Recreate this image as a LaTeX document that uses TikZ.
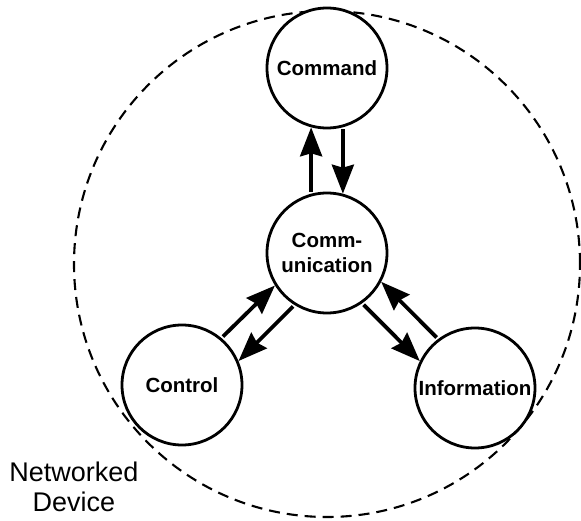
\documentclass[tikz,border=0pt]{standalone}
\usepackage{fontspec}
\setmainfont{Liberation Sans}
\usetikzlibrary{arrows.meta}
\begin{document}
\begin{tikzpicture}[x=1pt,y=1pt,
  role/.style={circle,draw=black,line width=2.8pt,fill=white,minimum size=120pt,
    inner sep=0pt,align=center,font=\fontsize{20.5}{25}\selectfont\bfseries},
  flow/.style={line width=3.8pt,-{Stealth[length=29pt,width=22pt,inset=3pt]},
    shorten <=2pt,shorten >=0pt},
  boundary/.style={draw=black,line width=2.1pt,dash pattern=on 11pt off 7pt}]
  \useasboundingbox (0,0) rectangle (581,520);
  % device boundary
  \draw[boundary] (327,256) circle[radius=253];
  % functional blocks
  \node[role] (cmd)  at (327,452) {Command};
  \node[role] (comm) at (327,267) {Comm-\\unication};
  \node[role] (ctrl) at (182,135) {Control};
  \node[role] (info) at (475,132) {Information};
  % exchanges with the communication block
  \draw[flow] (comm.105) -- (cmd.-105);
  \draw[flow] (cmd.-75) -- (comm.75);
  \draw[flow] (ctrl.50) -- (comm.212);
  \draw[flow] (comm.238) -- (ctrl.23);
  \draw[flow] (comm.305) -- (info.154);
  \draw[flow] (info.127) -- (comm.332);
  % caption
  \node[align=center,font=\fontsize{27}{30}\selectfont] (dev) at (74,33) {Networked\\Device};
\end{tikzpicture}
\end{document}
